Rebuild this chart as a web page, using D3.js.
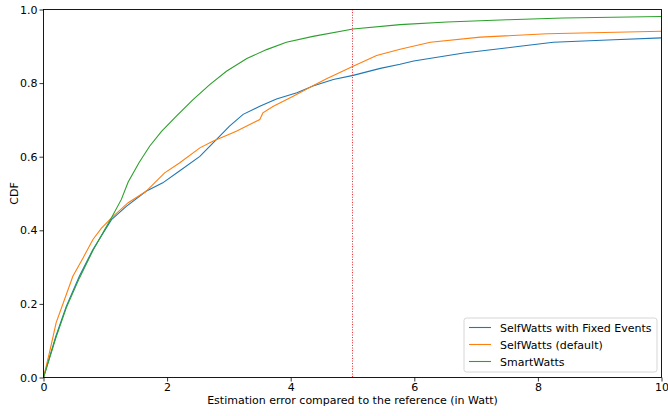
<!DOCTYPE html>
<html>
<head>
<meta charset="utf-8">
<script src="https://cdn.jsdelivr.net/npm/d3@7"></script>
<style>
  body { margin: 0; background: #fff; }
  text { font-family: "DejaVu Sans", sans-serif; }
</style>
</head>
<body>
<div id="chart"></div>
<script>
var xTicks = [0, 2, 4, 6, 8, 10];
var yTicks = [0.0, 0.2, 0.4, 0.6, 0.8, 1.0];
var seriesNames = ["SelfWatts with Fixed Events", "SelfWatts (default)", "SmartWatts"];
var seriesColors = ["#1f77b4", "#ff7f0e", "#2ca02c"];
var threshold = 5;

var fixedX = [0, 0.2, 0.37, 0.58, 0.8, 1.1, 1.34, 1.66, 1.93, 2.2, 2.53, 2.8, 3.01, 3.23, 3.5, 3.77, 4.1, 4.36, 4.69, 5.01, 5.45, 5.77, 5.99, 6.8, 7.71, 8.25, 9.23, 10];
var fixedY = [0, 0.112, 0.194, 0.275, 0.348, 0.429, 0.465, 0.506, 0.529, 0.561, 0.601, 0.647, 0.683, 0.715, 0.737, 0.757, 0.774, 0.792, 0.81, 0.821, 0.84, 0.851, 0.86, 0.882, 0.9, 0.911, 0.918, 0.923];

var defaultX = [0, 0.1, 0.205, 0.34, 0.475, 0.64, 0.8, 0.935, 1.1, 1.37, 1.66, 1.96, 2.2, 2.53, 2.74, 3.12, 3.5, 3.55, 3.72, 4.04, 4.36, 4.58, 5.01, 5.39, 5.77, 6.26, 7.07, 8.15, 10];
var defaultY = [0, 0.07, 0.149, 0.212, 0.275, 0.325, 0.375, 0.405, 0.434, 0.475, 0.506, 0.556, 0.583, 0.624, 0.642, 0.669, 0.701, 0.719, 0.737, 0.764, 0.793, 0.812, 0.846, 0.875, 0.892, 0.911, 0.925, 0.934, 0.941];

var smartX = [0, 0.2, 0.37, 0.58, 0.8, 1.0, 1.1, 1.26, 1.37, 1.55, 1.72, 1.91, 2.15, 2.42, 2.69, 2.96, 3.29, 3.61, 3.93, 4.36, 5.01, 5.77, 6.53, 7.5, 8.41, 10];
var smartY = [0, 0.108, 0.19, 0.27, 0.345, 0.405, 0.434, 0.484, 0.531, 0.585, 0.629, 0.669, 0.71, 0.755, 0.796, 0.832, 0.867, 0.891, 0.911, 0.927, 0.947, 0.959, 0.966, 0.972, 0.977, 0.981];

var svgWidth = 668;
var svgHeight = 416;
var margin = { top: 9.5, right: 6.5, bottom: 38.5, left: 43.5 };
var width = svgWidth - margin.left - margin.right;
var height = svgHeight - margin.top - margin.bottom;

var svg = d3.select("#chart")
  .append("svg")
  .attr("width", svgWidth)
  .attr("height", svgHeight);

var chartGroup = svg.append("g")
  .attr("transform", `translate(${margin.left}, ${margin.top})`);

var xScale = d3.scaleLinear().domain([0, 10]).range([0, width]);
var yScale = d3.scaleLinear().domain([0, 1]).range([height, 0]);

var series = [
  { xs: fixedX, ys: fixedY },
  { xs: defaultX, ys: defaultY },
  { xs: smartX, ys: smartY }
];

var line = d3.line()
  .x(d => xScale(d[0]))
  .y(d => yScale(d[1]));

series.forEach(function (s, i) {
  var pts = s.xs.map((x, j) => [x, s.ys[j]]);
  chartGroup.append("path")
    .datum(pts)
    .attr("d", line)
    .attr("fill", "none")
    .attr("stroke", seriesColors[i])
    .attr("stroke-width", 1.1);
});

chartGroup.append("line")
  .attr("x1", xScale(threshold))
  .attr("x2", xScale(threshold))
  .attr("y1", 0)
  .attr("y2", height)
  .attr("stroke", "#e3242b")
  .attr("stroke-width", 1)
  .attr("stroke-dasharray", "1,1.6");

var bottomAxis = d3.axisBottom(xScale)
  .tickValues(xTicks)
  .tickFormat(d3.format("d"))
  .tickSizeInner(4)
  .tickSizeOuter(0)
  .tickPadding(2);
var leftAxis = d3.axisLeft(yScale)
  .tickValues(yTicks)
  .tickFormat(d3.format(".1f"))
  .tickSizeInner(4)
  .tickSizeOuter(0)
  .tickPadding(2);

var gx = chartGroup.append("g")
  .attr("transform", `translate(0, ${height})`)
  .call(bottomAxis);
var gy = chartGroup.append("g")
  .call(leftAxis);
[gx, gy].forEach(function (g) {
  g.selectAll("text").attr("font-size", "11px").attr("fill", "#000")
    .style("font-family", "DejaVu Sans, sans-serif");
  g.selectAll("line").attr("stroke", "#000").attr("stroke-width", 0.8);
  g.select(".domain").remove();
});

// frame
chartGroup.append("rect")
  .attr("width", width)
  .attr("height", height)
  .attr("fill", "none")
  .attr("stroke", "#000")
  .attr("stroke-width", 0.9);

chartGroup.append("text")
  .attr("x", width / 2)
  .attr("y", height + 26)
  .attr("text-anchor", "middle")
  .attr("font-size", "11px")
  .attr("fill", "black")
  .text("Estimation error compared to the reference (in Watt)");

chartGroup.append("text")
  .attr("transform", "rotate(-90)")
  .attr("y", -margin.left + 18)
  .attr("x", -height / 2)
  .attr("text-anchor", "middle")
  .attr("font-size", "11px")
  .attr("fill", "black")
  .text("CDF");

// legend
var legend = chartGroup.append("g")
  .attr("transform", `translate(${464 - margin.left}, ${318 - margin.top})`);
legend.append("rect")
  .attr("width", 193)
  .attr("height", 54)
  .attr("rx", 2.5)
  .attr("fill", "white")
  .attr("fill-opacity", 0.8)
  .attr("stroke", "#d6d6d6")
  .attr("stroke-width", 1);
seriesNames.forEach(function (name, i) {
  var yy = 9.5 + i * 17;
  legend.append("line")
    .attr("x1", 5).attr("x2", 27)
    .attr("y1", yy).attr("y2", yy)
    .attr("stroke", seriesColors[i])
    .attr("stroke-width", 1.1);
  legend.append("text")
    .attr("x", 36)
    .attr("y", yy + 4)
    .attr("font-size", "11px")
    .attr("fill", "black")
    .text(name);
});
</script>
</body>
</html>
